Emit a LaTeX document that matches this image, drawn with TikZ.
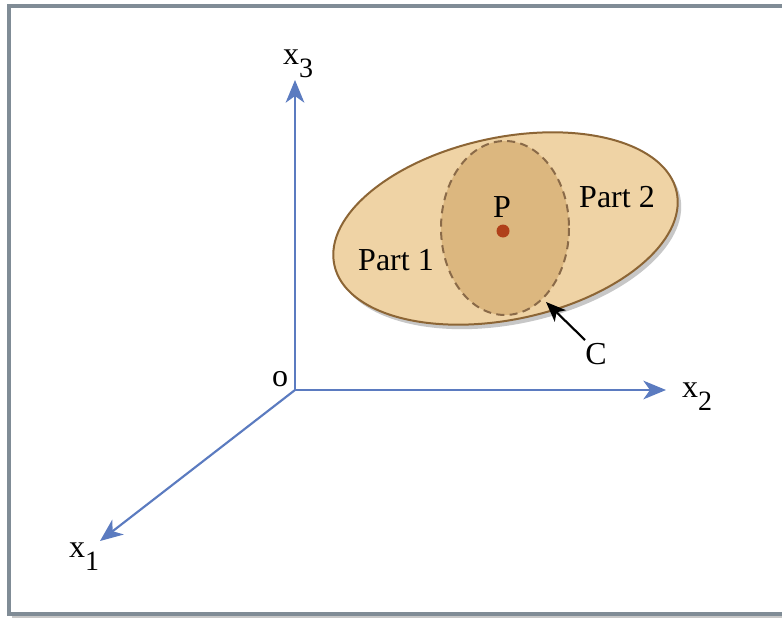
\documentclass[tikz,border=0pt]{standalone}
\usepackage{fontspec}
\setmainfont{Liberation Serif}
\usetikzlibrary{arrows.meta}
\definecolor{axisblue}{HTML}{5B7BC0}
\definecolor{framegray}{HTML}{808C96}
\definecolor{tanfill}{HTML}{EFD3A5}
\definecolor{tanline}{HTML}{8C6535}
\definecolor{innerfill}{HTML}{DCB77F}
\definecolor{innerline}{HTML}{8A6A48}
\definecolor{dotred}{HTML}{B0401A}
\tikzset{
  axis/.style={draw=axisblue, line width=1.6pt, -{Stealth[length=17pt,width=14pt,inset=5pt]}},
  lbl/.style={inner sep=0pt, font=\fontsize{24}{26}\selectfont},
}
\newcommand{\xsub}[1]{x\raisebox{-0.4em}{\fontsize{21}{22}\selectfont #1}}
\begin{document}
\begin{tikzpicture}[x=0.75pt,y=-0.75pt]
\useasboundingbox (0,0) rectangle (782,621);
% frame
\fill[black!22] (12,10) rectangle (800,618);
\fill[white] (9,6) rectangle (797,614);
\draw[framegray, line width=2.4pt] (9,6) rectangle (797,614);
% axes
\coordinate (O) at (295,390);
\coordinate (X3) at (295,80);
\coordinate (X2) at (666,390);
\coordinate (X1) at (100,541);
\draw[axis] (O) -- (X3);
\draw[axis] (O) -- (X2);
\draw[axis] (O) -- (X1);
\node[lbl] (l3) at (298,64) {\xsub{3}};
\node[lbl] (l2) at (697,397) {\xsub{2}};
\node[lbl] (l1) at (84,557) {\xsub{1}};
\node[lbl] (lo) at (280,379) {o};
% ellipses
\fill[black!22] (509,233) ellipse[x radius=175, y radius=91, rotate=12];
\draw[tanline, fill=tanfill, line width=1.5pt] (505.5,228.5) ellipse[x radius=175, y radius=91, rotate=12];
\draw[innerline, fill=innerfill, line width=1.5pt, dash pattern=on 6pt off 4pt] (505,228) ellipse[x radius=64, y radius=87];
\fill[dotred] (503,231) circle[radius=6.5];
\node[lbl] (P) at (502,207) {P};
\node[lbl] (p1) at (396,260) {Part 1};
\node[lbl] (p2) at (617,197) {Part 2};
\node[lbl] (C) at (596,354) {C};
\coordinate (ctip) at (546,302);
\draw[black, line width=1.6pt, -{Stealth[length=15pt,width=12pt,inset=4pt]}] (585,340) -- (ctip);
\end{tikzpicture}
\end{document}
